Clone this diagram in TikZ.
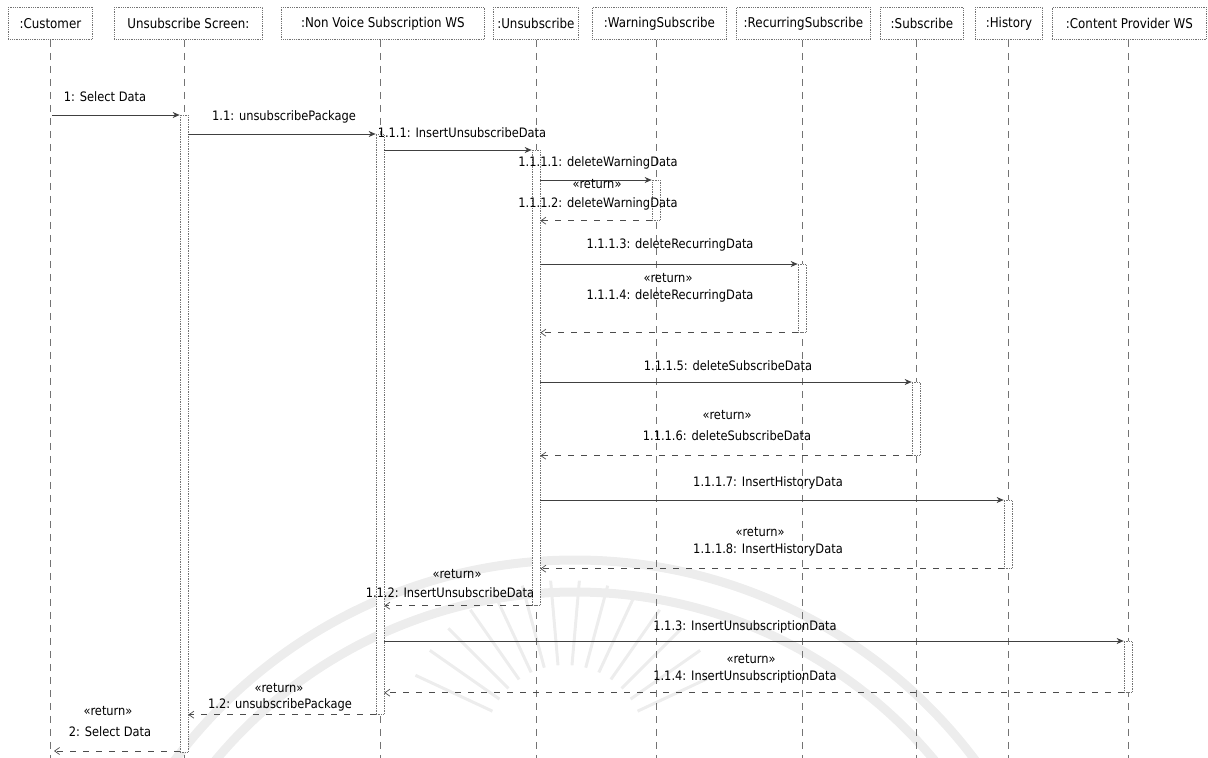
\documentclass[tikz,border=0pt]{standalone}
\usepackage{fontspec}
\setmainfont{DejaVu Sans}[FakeStretch=0.88]
\usetikzlibrary{arrows.meta,calc}
\begin{document}
\begin{tikzpicture}[x=1pt,y=-1pt,
  txt/.style={font=\fontsize{13}{14}\selectfont, inner sep=1pt},
  head/.style={draw=black!55, densely dotted, line width=0.8pt, anchor=north west, inner sep=0pt, align=center, font=\fontsize{13.5}{15}\selectfont},
  life/.style={draw=black!55, line width=0.7pt, dash pattern=on 7pt off 6pt},
  act/.style={draw=black!55, densely dotted, line width=0.7pt, fill=white, minimum width=8pt, inner sep=0pt, anchor=north},
  call/.style={draw=black!75, line width=0.7pt, -{Stealth[length=7pt,width=6pt]}},
  ret/.style={draw=black!70, line width=0.7pt, dash pattern=on 6pt off 7pt, -{Straight Barb[length=5pt,width=7pt]}},
  wm/.style={draw=black!7, line width=9pt},
  ray/.style={draw=black!7, line width=3pt}
]
\useasboundingbox (0,0) rectangle (1208,758);
% watermark
\begin{scope}
\clip (0,0) rectangle (1208,758);
\draw[wm] (575,1060) circle (500);
\draw[wm] (575,1060) circle (468);
\foreach \a in {25,35,...,155} {
  \draw[ray] ($(565,745)+(\a:-80)$) -- ($(565,745)+(\a:-165)$);
}
\end{scope}
% headers
\node[head, minimum width=84pt, minimum height=32pt] (hCust) at (8,7) {:Customer};
\node[head, minimum width=148pt, minimum height=32pt] (hScr) at (114,7) {Unsubscribe Screen:};
\node[head, minimum width=203pt, minimum height=32pt] (hNV) at (281,7) {:Non Voice Subscription WS};
\node[head, minimum width=85pt, minimum height=32pt] (hUn) at (493,7) {:Unsubscribe};
\node[head, minimum width=134pt, minimum height=32pt] (hWa) at (592,7) {:WarningSubscribe};
\node[head, minimum width=134pt, minimum height=32pt] (hRe) at (736,7) {:RecurringSubscribe};
\node[head, minimum width=83pt, minimum height=32pt] (hSu) at (880,7) {:Subscribe};
\node[head, minimum width=67pt, minimum height=32pt] (hHi) at (975,7) {:History};
\node[head, minimum width=154pt, minimum height=32pt] (hCP) at (1052,7) {:Content Provider WS};
% lifelines
\coordinate (lCust) at (50,758);
\coordinate (lScr) at (184,758);
\coordinate (lNV) at (380,758);
\coordinate (lUn) at (536,758);
\coordinate (lWa) at (656,758);
\coordinate (lRe) at (802,758);
\coordinate (lSu) at (916,758);
\coordinate (lHi) at (1008,758);
\coordinate (lCP) at (1128,758);
\draw[life] (hCust.south -| lCust) -- (lCust);
\draw[life] (hScr.south -| lScr) -- (lScr);
\draw[life] (hNV.south -| lNV) -- (lNV);
\draw[life] (hUn.south -| lUn) -- (lUn);
\draw[life] (hWa.south -| lWa) -- (lWa);
\draw[life] (hRe.south -| lRe) -- (lRe);
\draw[life] (hSu.south -| lSu) -- (lSu);
\draw[life] (hHi.south -| lHi) -- (lHi);
\draw[life] (hCP.south -| lCP) -- (lCP);
% activations
\node[act, minimum height=637pt] (aScr) at (184,115) {};
\node[act, minimum height=580pt] (aNV) at (380,134) {};
\node[act, minimum height=455pt] (aUn) at (536,150) {};
\node[act, minimum height=40pt] (aWa) at (656,180) {};
\node[act, minimum height=68pt] (aRe) at (802,264) {};
\node[act, minimum height=73pt] (aSu) at (916,382) {};
\node[act, minimum height=68pt] (aHi) at (1008,500) {};
\node[act, minimum height=51pt] (aCP) at (1128,641) {};
% messages
\coordinate (m1) at (52,115);
\draw[call] (m1) -- (aScr.north west);
\node[txt] (t1) at (105,97) {1: Select Data};

\draw[call] (aScr.east |- 0,134) -- (aNV.north west);
\node[txt] (t2) at (284,117) {1.1: unsubscribePackage};

\draw[call] (aNV.east |- 0,150) -- (aUn.north west);
\node[txt] (t3) at (462,133) {1.1.1: InsertUnsubscribeData};

\draw[call] (aUn.east |- 0,180) -- (aWa.north west);
\node[txt] (t4) at (598,163) {1.1.1.1: deleteWarningData};

\draw[ret] (aWa.south west) -- (aUn.east |- aWa.south);
\node[txt] (t5a) at (597,184) {«return»};
\node[txt] (t5) at (598,204) {1.1.1.2: deleteWarningData};

\draw[call] (aUn.east |- 0,264) -- (aRe.north west);
\node[txt] (t6) at (670,245) {1.1.1.3: deleteRecurringData};

\draw[ret] (aRe.south west) -- (aUn.east |- aRe.south);
\node[txt] (t7a) at (668,278) {«return»};
\node[txt] (t7) at (670,296) {1.1.1.4: deleteRecurringData};

\draw[call] (aUn.east |- 0,382) -- (aSu.north west);
\node[txt] (t8) at (728,366) {1.1.1.5: deleteSubscribeData};

\draw[ret] (aSu.south west) -- (aUn.east |- aSu.south);
\node[txt] (t9a) at (727,415) {«return»};
\node[txt] (t9) at (727,436) {1.1.1.6: deleteSubscribeData};

\draw[call] (aUn.east |- 0,500) -- (aHi.north west);
\node[txt] (t10) at (768,483) {1.1.1.7: InsertHistoryData};

\draw[ret] (aHi.south west) -- (aUn.east |- aHi.south);
\node[txt] (t11a) at (760,532) {«return»};
\node[txt] (t11) at (768,550) {1.1.1.8: InsertHistoryData};

\draw[ret] (aUn.south west) -- (aNV.east |- aUn.south);
\node[txt] (t12a) at (457,574) {«return»};
\node[txt] (t12) at (450,593) {1.1.2: InsertUnsubscribeData};

\draw[call] (aNV.east |- aCP.north) -- (aCP.north west);
\node[txt] (t13) at (745,627) {1.1.3: InsertUnsubscriptionData};

\draw[ret] (aCP.south west) -- (aNV.east |- aCP.south);
\node[txt] (t14a) at (751,659) {«return»};
\node[txt] (t14) at (745,677) {1.1.4: InsertUnsubscriptionData};

\draw[ret] (aNV.south west) -- (aScr.east |- aNV.south);
\node[txt] (t15a) at (279,688) {«return»};
\node[txt] (t15) at (280,705) {1.2: unsubscribePackage};

\coordinate (m16) at (54,751);
\draw[ret] (aScr.south west |- m16) -- (m16);
\node[txt] (t16a) at (108,711) {«return»};
\node[txt] (t16) at (110,732) {2: Select Data};
\end{tikzpicture}
\end{document}
